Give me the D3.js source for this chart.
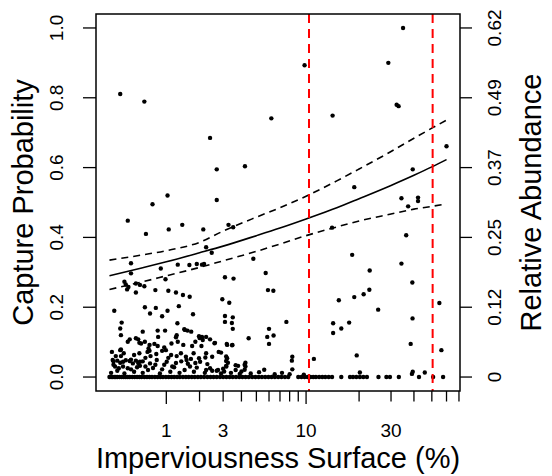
<!DOCTYPE html>
<html>
<head>
<meta charset="utf-8">
<script src="https://cdn.jsdelivr.net/npm/d3@7"></script>
<style>
  body { margin: 0; background: #fff; }
  text { font-family: "Liberation Sans", Arial, sans-serif; fill: #000; }
</style>
</head>
<body>
<div id="chart"></div>
<script>
// points: [imperviousness %, capture probability]
const scatterHigh = [
  [0.14,0.811],[0.53,0.789],[9.8,0.893],[6.2,0.741],[2.41,0.685],[2.7,0.595],[4.22,0.604],
  [1.03,0.52],[0.69,0.495],[2.7,0.507],[0.25,0.448],[0.56,0.41],[1.06,0.423],[1.43,0.436],
  [2.14,0.423],[3.27,0.436],[3.52,0.429],[34.9,1.0],[29,0.9],[32.2,0.78],[33,0.776],
  [14.2,0.749],[60,0.661],[39.4,0.595],[18.8,0.544],[34.2,0.512],[37.2,0.489],[42.1,0.514],
  [42.1,0.504],[14.1,0.428],[36.3,0.406],[18.3,0.35],[34.2,0.325],[22.9,0.305],[39.2,0.271],
  [15.4,0.22],[18.8,0.229],[21.2,0.237],[22.8,0.25],[25.5,0.193],[54.9,0.212],[14.3,0.154],
  [14.3,0.126],[15.9,0.139],[17.6,0.156],[39.3,0.168],[38.4,0.095],[56.3,0.077],[19.4,0.062],
  [11.1,0.052],[20.2,0.013],[39.4,0.015],[39.0,0.009],[45.8,0.013],[9.7,0.007]
];
const scatterMid = [
  [2.25,0.372],[2.48,0.356],[2.17,0.324],[4.78,0.339],[3.09,0.286],[3.54,0.282],[5.72,0.298],
  [5.91,0.249],[6.38,0.247],[2.96,0.223],[3.31,0.213],[0.3,0.326],[0.3,0.297],[0.87,0.311],
  [1.3,0.322],[1.65,0.321],[1.9,0.324],[2.09,0.322],[0.2,0.273],[0.22,0.265],[0.26,0.258],
  [0.24,0.251],[0.38,0.268],[0.45,0.264],[0.53,0.26],[0.38,0.242],[0.98,0.28],[0.75,0.249],
  [1.05,0.247],[1.25,0.242],[1.45,0.235],[1.66,0.23]
];
const scatterLow = [
  [3.09,0.175],[3.09,0.158],[3.5,0.171],[3.45,0.155],[3.5,0.138],[7.65,0.158],[6.0,0.138],
  [5.85,0.115],[6.4,0.119],[6.0,0.095],[4.46,0.111],[3.2,0.092],[3.46,0.091],[2.6,0.097],
  [0.06,0.19],[0.54,0.2],[0.76,0.198],[0.64,0.182],[0.9,0.174],[1.03,0.19],[1.33,0.203],
  [1.77,0.18],[0.16,0.156],[0.14,0.139],[0.15,0.12],[0.28,0.108],[0.25,0.101],[0.42,0.108],
  [0.5,0.13],[0.47,0.096],[0.54,0.101],[0.63,0.092],[0.61,0.082],[0.59,0.072],[0.73,0.095],
  [0.8,0.089],[0.8,0.133],[0.95,0.085],[0.99,0.077],[0.97,0.133],[1.25,0.114],[1.3,0.101],
  [1.46,0.092],[1.49,0.137],[1.59,0.133],[1.74,0.089],[1.85,0.101],[2.09,0.115],[2.12,0.106],
  [0.38,0.111],[0.44,0.098],[0.81,0.115],[1.13,0.096],[1.27,0.12],[1.29,0.154],[1.51,0.135],
  [1.71,0.13],[1.98,0.117],[2.07,0.089],[2.25,0.115],[2.41,0.108],[2.62,0.098],[3.18,0.095],
  [3.48,0.092],[2.0,0.112]
];
const scatterNearZero = [
  [0.03,0.072],[0.08,0.06],[0.15,0.079],[0.35,0.063],[0.44,0.068],[0.77,0.066],[1.12,0.063],
  [1.39,0.068],[1.54,0.058],[1.79,0.068],[1.98,0.054],[0.04,0.049],[0.14,0.077],[0.19,0.068],
  [0.63,0.075],[0.9,0.075],[2.79,0.072],[2.9,0.07],[2.5,0.058],[3.15,0.059],[3.15,0.046],
  [3.15,0.032],[2.25,0.068],[2.22,0.056],[2.3,0.037],[2.25,0.02],[2.7,0.018],[3.05,0.016],
  [3.8,0.032],[4.2,0.035],[4.2,0.021],[5.6,0.021],[8.3,0.058],[8.25,0.047],[8.3,0.022],
  [3.9,0.009],[3.2,0.054],[3.24,0.041],[3.66,0.034],[4.25,0.041],[4.25,0.03],[2.76,0.02],
  [2.02,0.044],[1.56,0.049],[1.27,0.06],[1.01,0.044],[0.78,0.049],[0.64,0.039],[0.45,0.044],
  [0.33,0.039],[0.14,0.041],[0.07,0.03],[1.67,0.03],[2.41,0.025],[3.16,0.03],[3.66,0.02],
  [0.02,0.012],[0.1,0.018],[0.2,0.01],[0.25,0.025],[0.35,0.015],[0.4,0.028],[0.5,0.012],
  [0.6,0.02],[0.7,0.026],[0.85,0.01],[0.9,0.022],[1.1,0.015],[1.2,0.028],[1.35,0.012],
  [1.5,0.02],[1.8,0.015],[1.9,0.027],[2.2,0.012],[2.5,0.018],[2.9,0.01],[3.0,0.024],
  [3.4,0.012],[4.0,0.016],[4.6,0.01],[5.2,0.014],[6.5,0.008],[7.2,0.012],[8.0,0.008],
  [0.05,0.035],[0.3,0.05],[0.55,0.055],[0.95,0.035],[1.25,0.04],[1.7,0.052],[0.15,0.06],
  [0.45,0.032],[0.65,0.06],[1.05,0.055],[1.4,0.045],[0.05,0.045],[0.1,0.047],[0.18,0.044],
  [0.22,0.048],[0.28,0.046],[0.38,0.047],[0.42,0.04],[0.5,0.045],[0.12,0.025],[0.18,0.03],
  [0.3,0.022],[0.55,0.03],[0.75,0.035],[1.15,0.03],[1.6,0.038],[1.85,0.04]
];
// sites with zero captures
const zeroImperv = [
  0,0.02,0.04,0.06,0.08,0.1,0.13,0.16,0.19,0.22,0.25,0.28,0.32,0.36,0.4,0.44,0.48,0.53,0.58,
  0.63,0.68,0.74,0.8,0.86,0.92,0.99,1.06,1.13,1.2,1.28,1.36,1.45,1.54,1.63,1.73,1.83,1.94,
  2.05,2.17,2.3,2.43,2.56,2.7,2.85,3.0,3.16,3.33,3.5,3.68,3.87,4.06,4.26,4.47,4.7,4.93,5.17,
  5.42,5.68,5.95,6.23,6.52,6.83,7.15,7.5,7.85,9.0,9.4,9.8,10.2,10.6,11.0,11.4,11.9,12.4,
  12.9,13.5,14.1,15.9,17.8,18.5,19.3,20.2,21.1,22.1,25.6,28.3,29.6,33.1,42.6,50.8,57.5
];

// fitted curve with confidence band
const fitImperv = [0, 0.5, 1, 2, 3, 5, 7, 10, 15, 20, 30, 40, 50, 60];
const fitMean   = [0.290, 0.313, 0.330, 0.356, 0.375, 0.405, 0.427, 0.453, 0.485, 0.511, 0.549, 0.578, 0.602, 0.623];
const fitUpper  = [0.335, 0.350, 0.362, 0.386, 0.418, 0.458, 0.485, 0.518, 0.562, 0.596, 0.646, 0.684, 0.713, 0.736];
const fitLower  = [0.251, 0.273, 0.290, 0.314, 0.333, 0.360, 0.381, 0.405, 0.430, 0.447, 0.467, 0.481, 0.489, 0.496];

const cutoffs = [10.4, 50.5];

const xTicks = [1, 2, 3, 4, 5, 6, 7, 8, 9, 10, 20, 30, 40, 50, 60, 70];
const xMajor = [1, 10];
const xLabelTicks = [1, 3, 10, 30];
const yTicks = [0, 0.2, 0.4, 0.6, 0.8, 1.0];
const yLabels = ["0.0", "0.2", "0.4", "0.6", "0.8", "1.0"];
const abundanceLabels = ["0", "0.12", "0.25", "0.37", "0.49", "0.62"];

const W = 552, H = 476;
const margin = { top: 14, right: 92, bottom: 85, left: 96 };
const plotW = W - margin.left - margin.right;
const plotH = H - margin.top - margin.bottom;

const svg = d3.select("#chart").append("svg")
  .attr("width", W)
  .attr("height", H);

const g = svg.append("g")
  .attr("transform", `translate(${margin.left},${margin.top})`);

// x is plotted as log(imperviousness + 1), with R's 4% padding
const lo = Math.log10(1), hi = Math.log10(61);
const pad = 0.04 * (hi - lo);
const x = d3.scaleLog()
  .domain([Math.pow(10, lo - pad), Math.pow(10, hi + pad)])
  .range([0, plotW]);
const px = v => x(v + 1);

const y = d3.scaleLinear()
  .domain([-0.04, 1.04])
  .range([plotH, 0]);

// points
const allPts = scatterHigh.concat(scatterMid, scatterLow, scatterNearZero,
  zeroImperv.map(v => [v, 0]));
g.append("g").selectAll("circle")
  .data(allPts)
  .enter()
  .append("circle")
  .attr("cx", d => px(d[0]))
  .attr("cy", d => y(d[1]))
  .attr("r", 2.2)
  .attr("fill", "#000");

// fitted lines
const fitLine = vals => d3.line()
  .x((d, i) => px(fitImperv[i]))
  .y(d => y(d))
  .curve(d3.curveMonotoneX)(vals);

g.append("path")
  .attr("d", fitLine(fitMean))
  .attr("fill", "none")
  .attr("stroke", "#000")
  .attr("stroke-width", 1.6);

[fitUpper, fitLower].forEach(vals => {
  g.append("path")
    .attr("d", fitLine(vals))
    .attr("fill", "none")
    .attr("stroke", "#000")
    .attr("stroke-width", 1.6)
    .attr("stroke-dasharray", "7,5");
});

// cut-off lines
g.selectAll(".cut")
  .data(cutoffs)
  .enter()
  .append("line")
  .attr("x1", d => px(d))
  .attr("x2", d => px(d))
  .attr("y1", 0)
  .attr("y2", plotH)
  .attr("stroke", "#ff0000")
  .attr("stroke-width", 2)
  .attr("stroke-dasharray", "9,6");

// box
g.append("rect")
  .attr("width", plotW)
  .attr("height", plotH)
  .attr("fill", "none")
  .attr("stroke", "#000")
  .attr("stroke-width", 1.5);

// bottom axis
const bx = g.append("g").attr("transform", `translate(0,${plotH})`);
bx.selectAll("line")
  .data(xTicks)
  .enter()
  .append("line")
  .attr("x1", d => px(d))
  .attr("x2", d => px(d))
  .attr("y1", 0)
  .attr("y2", d => xMajor.includes(d) ? 13 : 10.5)
  .attr("stroke", "#000")
  .attr("stroke-width", 1.3);
bx.selectAll("text")
  .data(xLabelTicks)
  .enter()
  .append("text")
  .attr("x", d => px(d))
  .attr("y", 46)
  .attr("text-anchor", "middle")
  .style("font-size", "19px")
  .text(d => d);

// left axis
const ly = g.append("g");
ly.selectAll("line")
  .data(yTicks)
  .enter()
  .append("line")
  .attr("x1", -13)
  .attr("x2", 0)
  .attr("y1", d => y(d))
  .attr("y2", d => y(d))
  .attr("stroke", "#000")
  .attr("stroke-width", 1.3);
ly.selectAll("text")
  .data(yTicks)
  .enter()
  .append("text")
  .attr("transform", d => `translate(-33,${y(d)}) rotate(-90)`)
  .attr("text-anchor", "middle")
  .style("font-size", "19px")
  .text((d, i) => yLabels[i]);

// right axis
const ry = g.append("g").attr("transform", `translate(${plotW},0)`);
ry.selectAll("line")
  .data(yTicks)
  .enter()
  .append("line")
  .attr("x1", 0)
  .attr("x2", 12)
  .attr("y1", d => y(d))
  .attr("y2", d => y(d))
  .attr("stroke", "#000")
  .attr("stroke-width", 1.3);
ry.selectAll("text")
  .data(yTicks)
  .enter()
  .append("text")
  .attr("transform", d => `translate(41,${y(d)}) rotate(-90)`)
  .attr("text-anchor", "middle")
  .style("font-size", "19px")
  .text((d, i) => abundanceLabels[i]);

// axis titles
svg.append("text")
  .attr("x", margin.left + plotW / 2)
  .attr("y", 468)
  .attr("text-anchor", "middle")
  .style("font-size", "29px")
  .text("Imperviousness Surface (%)");

svg.append("text")
  .attr("transform", `translate(33,${margin.top + plotH / 2}) rotate(-90)`)
  .attr("text-anchor", "middle")
  .style("font-size", "29px")
  .text("Capture Probability");

svg.append("text")
  .attr("transform", `translate(541,${margin.top + plotH / 2}) rotate(-90)`)
  .attr("text-anchor", "middle")
  .style("font-size", "29px")
  .text("Relative Abundance");
</script>
</body>
</html>
